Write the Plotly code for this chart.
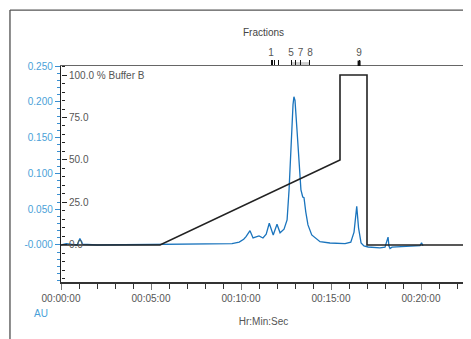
import plotly.graph_objects as go

# UV absorbance trace (time in minutes, AU)
uv_time = [0, 0.3, 0.6, 0.9, 1.05, 1.2, 2, 4, 6, 8, 9.0, 9.5, 9.9, 10.15, 10.28, 10.5, 10.67, 10.85, 11.0,
           11.22, 11.4, 11.57, 11.79, 12.0, 12.17, 12.39, 12.56, 12.67, 12.78, 12.89, 12.94, 13.0, 13.11,
           13.22, 13.33, 13.43, 13.5, 13.6, 13.72, 13.93, 14.17, 14.39, 14.94, 15.5, 15.78, 16.1, 16.28,
           16.43, 16.53, 16.67, 16.83, 17.06, 17.44, 17.72, 18.0, 18.11, 18.17, 18.22, 18.28, 18.39,
           19.0, 19.39, 19.94, 20.03, 20.11]
uv_au = [0.0, 0.002, 0.001, 0.0, 0.009, 0.001, 0.0, 0.0005, 0.0005, 0.001, 0.0015, 0.002, 0.004, 0.008, 0.0116,
         0.020, 0.0098, 0.011, 0.0126, 0.0098, 0.015, 0.0303, 0.014, 0.029, 0.017, 0.022, 0.035, 0.077,
         0.147, 0.196, 0.207, 0.202, 0.161, 0.112, 0.077, 0.067, 0.066, 0.046, 0.028, 0.014, 0.0084,
         0.0046, 0.0028, 0.0022, 0.002, 0.004, 0.018, 0.054, 0.024, 0.003, -0.0014, -0.0028, -0.003,
         -0.004, -0.003, 0.007, 0.011, -0.0014, -0.005, -0.003, -0.0025, -0.002, -0.001, 0.003, -0.001]

# Gradient (% Buffer B)
grad_time = [0, 5.5, 15.5, 15.5, 17.0, 17.0, 22.5]
grad_pct = [0, 0, 50, 100, 100, 0, 0]

# Fractions
frac_time = [11.67, 11.76, 11.85, 12.07, 12.78, 13.03, 13.31, 13.83, 16.56]
frac_label = ["1", "", "", "", "5", "", "7", "8", "9"]

# Axis ticks
x_ticks = [0, 5, 10, 15, 20]
x_ticktext = ["00:00:00", "00:05:00", "00:10:00", "00:15:00", "00:20:00"]
au_ticks = [0, 0.05, 0.10, 0.15, 0.20, 0.25]
au_ticktext = ["-0.000", "0.050", "0.100", "0.150", "0.200", "0.250"]
pct_ticks = [0, 25, 50, 75, 100]
pct_ticktext = ["0.0", "25.0", "50.0", "75.0", "100.0 % Buffer B"]

BLUE_TXT = "#4a9fd8"
GRAY_TXT = "#555555"
FONT = "Liberation Sans, Arial, sans-serif"
X_RANGE = [0, 22.5]

fig = go.Figure()
fig.add_trace(go.Scatter(x=uv_time, y=uv_au, mode="lines", line=dict(color="#1a74bd", width=1.3),
                         xaxis="x", yaxis="y", showlegend=False, hoverinfo="skip"))
fig.add_trace(go.Scatter(x=grad_time, y=grad_pct, mode="lines", line=dict(color="#222222", width=1.6),
                         xaxis="x", yaxis="y2", showlegend=False, hoverinfo="skip"))
# invisible carrier so the fractions axis is drawn
fig.add_trace(go.Scatter(x=frac_time, y=[0] * len(frac_time), mode="markers", marker=dict(opacity=0),
                         xaxis="x2", yaxis="y", showlegend=False, hoverinfo="skip"))

shapes = []
# fraction band between fraction 5 and 8
shapes.append(dict(type="rect", xref="x", yref="paper", x0=frac_time[4], x1=frac_time[7], y0=1.0, y1=1.018,
                   fillcolor="#cccccc", line=dict(width=0), layer="below"))
# thick tick for the last fraction
shapes.append(dict(type="line", xref="x", yref="paper", x0=frac_time[8], x1=frac_time[8], y0=1.0, y1=1.025,
                   line=dict(color="#111111", width=3)))
# outer frame
shapes.append(dict(type="line", xref="paper", yref="paper", x0=-0.126, x1=-0.126, y0=-0.27, y1=1.259,
                   line=dict(color="#666666", width=1.5)))
shapes.append(dict(type="line", xref="paper", yref="paper", x0=-0.126, x1=1.0, y0=1.259, y1=1.259,
                   line=dict(color="#555555", width=1.2)))
shapes.append(dict(type="line", xref="paper", yref="paper", x0=1.0, x1=1.0, y0=0, y1=1.259,
                   line=dict(color="#888888", width=2)))

fig.update_layout(
    width=463, height=331,
    margin=dict(l=53, r=5, t=58, b=57),
    paper_bgcolor="white", plot_bgcolor="white",
    font=dict(family=FONT, size=10, color=GRAY_TXT),
    shapes=shapes,
    xaxis=dict(range=X_RANGE, tickvals=x_ticks, ticktext=x_ticktext, ticks="outside", ticklen=6,
               tickcolor="#777777", tickwidth=1.2, showline=True, linecolor="#333333", linewidth=1.6,
               showgrid=False, zeroline=False, automargin=False, tickfont=dict(size=10, color=GRAY_TXT),
               minor=dict(dtick=1, ticks="outside", ticklen=5, tickcolor="#333333", tickwidth=1),
               title=dict(text="Hr:Min:Sec", font=dict(size=10, color=GRAY_TXT), standoff=15)),
    xaxis2=dict(range=X_RANGE, overlaying="x", side="top", anchor="y", tickvals=frac_time,
                ticktext=frac_label, ticks="outside", ticklen=5, tickcolor="#111111", tickwidth=1.4,
                showline=True, linecolor="#666666", linewidth=1.2, showgrid=False, zeroline=False,
                automargin=False, tickfont=dict(size=10, color=GRAY_TXT),
                title=dict(text="Fractions", font=dict(size=10, color="#444444"), standoff=8)),
    yaxis=dict(range=[-0.0517, 0.250], tickvals=au_ticks, ticktext=au_ticktext, ticks="outside", ticklen=5,
               tickcolor="#3a8fd0", tickwidth=1.2, showline=True, linecolor="#222222", linewidth=1.4,
               showgrid=False, zeroline=False, automargin=False, tickfont=dict(size=10, color=BLUE_TXT),
               minor=dict(dtick=0.01, ticks="outside", ticklen=3, tickcolor="#3a8fd0", tickwidth=1)),
    yaxis2=dict(range=[-21.8, 105.3], overlaying="y", side="right", anchor="free", position=0,
                tickvals=pct_ticks, ticktext=pct_ticktext, ticks="outside", ticklen=5,
                tickcolor="#222222", tickwidth=1.2, showline=False, showgrid=False, zeroline=False,
                automargin=False, tickfont=dict(size=10, color=GRAY_TXT),
                minor=dict(dtick=5, ticks="outside", ticklen=3, tickcolor="#222222", tickwidth=1)),
    annotations=[dict(text="AU", xref="paper", yref="paper", x=-0.049, y=-0.148, showarrow=False,
                      font=dict(size=10, color=BLUE_TXT), xanchor="center", yanchor="middle")],
)

fig.write_html("out.html")
